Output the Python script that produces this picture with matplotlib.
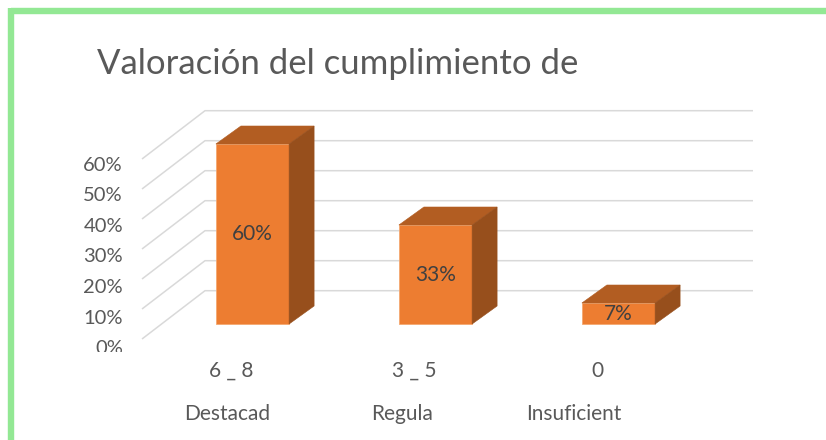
import numpy as np
import matplotlib.pyplot as plt
from matplotlib.patches import Polygon, Rectangle
from matplotlib.lines import Line2D

plt.rcParams['font.family'] = ['Lato', 'DejaVu Sans']

title = 'Valoración del cumplimiento de'
categories = ['6 _ 8', '3 _ 5', '0']
category_names = ['Destacad', 'Regula', 'Insuficient']
values = [0.60, 0.33, 0.07]
value_labels = ['60%', '33%', '7%']
y_ticks = [0.0, 0.1, 0.2, 0.3, 0.4, 0.5, 0.6]
y_tick_labels = ['0%', '10%', '20%', '30%', '40%', '50%', '60%']

# colours
c_front = '#ED7D31'
c_top = '#B25D22'
c_side = '#974F1C'
c_grid = '#D9D9D9'
c_text = '#595959'

# layout: 183 px per category, 300 px per 100%
px_x, px_y = 183.0, 300.0
x0_px, y0_px = 252.5, 324.0
W, H = 826, 440

fig = plt.figure(figsize=(W / 100, H / 100), dpi=100)
ax = fig.add_axes([0, 0, 1, 1])
ax.set_xlim(-x0_px / px_x, (W - x0_px) / px_x)
ax.set_ylim(-(H - y0_px) / px_y, y0_px / px_y)
ax.axis('off')

# walls / grid (3d look)
front_x, front_dy = (142 - x0_px) / px_x, -15 / px_y
back_x, back_dy = (205 - x0_px) / px_x, 33.3 / px_y
back_end = (753 - x0_px) / px_x
for v in y_ticks:
    ax.plot([front_x, back_x, back_end], [v + front_dy, v + back_dy, v + back_dy],
            color=c_grid, lw=1.1, zorder=1, solid_capstyle='butt')

# tick labels, the bottom one is cut by the plot area
clip = Rectangle((-2, (y0_px - 352) / px_y), 10, 5, transform=ax.transData)
for v, lab in zip(y_ticks, y_tick_labels):
    t = ax.text((123 - x0_px) / px_x, v - 0.05 - 0.02 - (0.6 - v) * 0.02, lab,
                ha='right', va='center', fontsize=14.5, color=c_text)
    t.set_clip_path(clip)
    t.set_clip_on(True)

# bars
half = 0.2
ddx, ddy = 25 / px_x, 18 / px_y
for i, v in enumerate(values):
    l, r = i - half, i + half
    ax.add_patch(Polygon([(l, 0), (r, 0), (r, v), (l, v)], closed=True,
                         facecolor=c_front, edgecolor='#F4A870', lw=0.6, zorder=3))
    ax.add_patch(Polygon([(l, v), (r, v), (r + ddx, v + ddy), (l + ddx, v + ddy)],
                         closed=True, facecolor=c_top, edgecolor=c_top, lw=0.4, zorder=3))
    ax.add_patch(Polygon([(r, 0), (r + ddx, ddy), (r + ddx, v + ddy), (r, v)],
                         closed=True, facecolor=c_side, edgecolor=c_side, lw=0.4, zorder=3))
    ax.text(i, max(v / 2, 0.027), value_labels[i], ha='center', va='center',
            fontsize=15, color='#404040', zorder=4)

# category labels
name_shift = [-25.5, -33.5, -44.5]
for i, (c, n) in enumerate(zip(categories, category_names)):
    ax.text(i - 21.5 / px_x, (y0_px - 371) / px_y, c, ha='center', va='center',
            fontsize=15, color=c_text)
    ax.text(i + name_shift[i] / px_x, (y0_px - 414) / px_y, n, ha='center', va='center',
            fontsize=15, color=c_text)

# title
fig.text(97 / W, 1 - 74 / H, title, ha='left', va='baseline', fontsize=25, color=c_text)

# green frame
green = '#93E894'
fig.add_artist(Line2D([11 / W, 1], [1 - 11 / H, 1 - 11 / H], color=green, lw=4.6,
                      transform=fig.transFigure, solid_capstyle='butt'))
fig.add_artist(Line2D([11 / W, 11 / W], [0, 1 - 8.5 / H], color=green, lw=4.6,
                      transform=fig.transFigure, solid_capstyle='butt'))

fig.savefig('out.png', dpi=100)
